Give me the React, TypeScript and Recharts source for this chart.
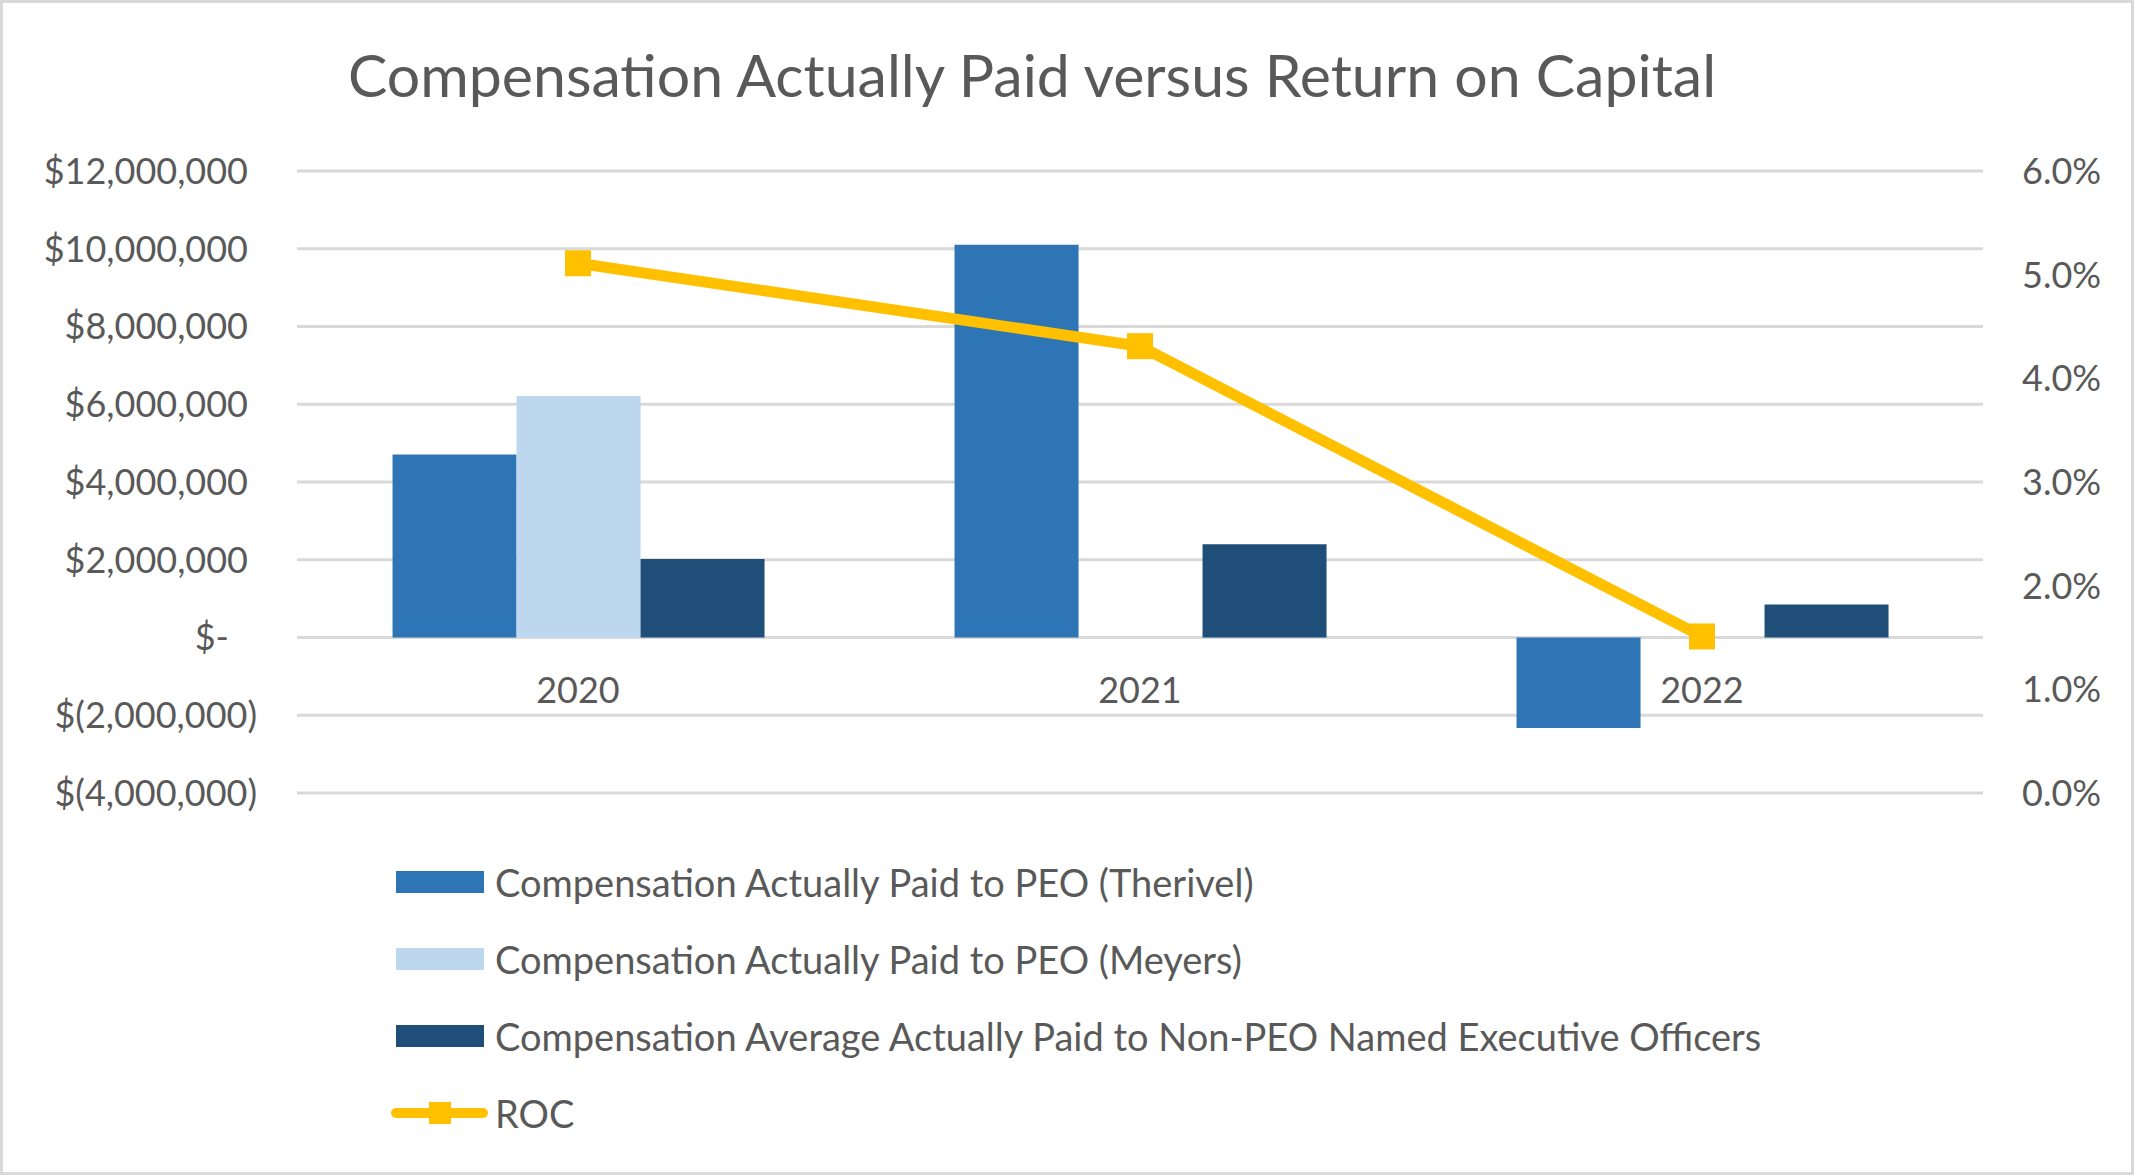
import React from 'react';
import { ComposedChart, Bar, Line, XAxis, YAxis, CartesianGrid, Legend } from 'recharts';

const years = ['2020', '2021', '2022'];
const therivel = [4710000, 10100000, -2330000];
const meyers = [6210000, null, null];
const nonPeo = [2020000, 2400000, 850000];
const roc = [0.0511, 0.0431, 0.0151];

const moneyTicks = [-4000000, -2000000, 0, 2000000, 4000000, 6000000, 8000000, 10000000, 12000000];
const pctTicks = [0, 0.01, 0.02, 0.03, 0.04, 0.05, 0.06];

const seriesNames = [
  'Compensation Actually Paid to PEO (Therivel)',
  'Compensation Actually Paid to PEO (Meyers)',
  'Compensation Average Actually Paid to Non-PEO Named Executive Officers',
  'ROC',
];

const BLUE = '#2E75B6';
const LIGHT_BLUE = '#BDD7EE';
const DARK_BLUE = '#1F4E79';
const GOLD = '#FFC000';
const GRID = '#D9D9D9';
const TEXT = '#595959';
const FONT = 'Lato, "Open Sans", sans-serif';
const TICK_SIZE = 36;

const data = years.map((year, i) => ({
  year,
  therivel: therivel[i],
  meyers: meyers[i],
  nonPeo: nonPeo[i],
  roc: roc[i],
}));

// Excel accounting style: $12,000,000 / $- / $(2,000,000)
const formatMoney = (v: number) => {
  if (v === 0) return '$-';
  if (v < 0) return `$(${Math.abs(v).toLocaleString('en-US')})`;
  return `$${v.toLocaleString('en-US')}`;
};

const formatPct = (v: number) => `${(v * 100).toFixed(1)}%`;

const MoneyTick = ({ x, y, payload }: any) => {
  const v = payload.value;
  // positive numbers carry a trailing ")"-wide pad, zero carries more
  const dx = v > 0 ? -9 : v === 0 ? -28 : 0;
  return (
    <text x={x + dx} y={y} dy="0.36em" textAnchor="end" fill={TEXT} fontSize={TICK_SIZE} fontFamily={FONT}>
      {formatMoney(v)}
    </text>
  );
};

const PctTick = ({ x, y, payload }: any) => (
  <text x={x} y={y} dy="0.36em" textAnchor="start" fill={TEXT} fontSize={TICK_SIZE} fontFamily={FONT}>
    {formatPct(payload.value)}
  </text>
);

// category labels sit just under the zero line, not at the plot bottom
const YearTick = ({ x, y, payload }: any) => (
  <text x={x} y={y - 103} dy="0.36em" textAnchor="middle" fill={TEXT} fontSize={TICK_SIZE} fontFamily={FONT}>
    {payload.value}
  </text>
);

const SquareDot = (props: any) => {
  const { cx, cy, index } = props;
  if (cx == null || cy == null) return null;
  return <rect key={`dot-${index}`} x={cx - 13} y={cy - 13} width={26} height={26} fill={GOLD} />;
};

const renderLegend = (props: any) => {
  // keep series order instead of the default alphabetical sort
  const payload = [...(props.payload || [])].sort(
    (a: any, b: any) => seriesNames.indexOf(a.value) - seriesNames.indexOf(b.value)
  );
  return (
    <div style={{ fontFamily: FONT, fontSize: 38, color: TEXT }}>
      {payload.map((entry: any, i: number) => (
        <div key={i} style={{ height: 77.1, display: 'flex', alignItems: 'center' }}>
          {entry.type === 'line' ? (
            <svg width={98} height={24} style={{ marginRight: 6 }}>
              <line x1={5} y1={12} x2={92} y2={12} stroke={GOLD} strokeWidth={10} strokeLinecap="round" />
              <rect x={38} y={1} width={22} height={22} fill={GOLD} />
            </svg>
          ) : (
            <div style={{ width: 88, height: 22, marginLeft: 5, marginRight: 11, background: entry.color }} />
          )}
          <span style={{ whiteSpace: 'nowrap' }}>{entry.value}</span>
        </div>
      ))}
    </div>
  );
};

const App: React.FC = () => {
  return (
    <div style={{ position: 'absolute', left: 0, top: 0, width: 2134, height: 1175, background: '#fff' }}>
      <ComposedChart
        width={2134}
        height={1175}
        data={data}
        margin={{ top: 171, right: 0, bottom: 352, left: 0 }}
        barCategoryGap="17%"
        barGap={0}
      >
        <CartesianGrid yAxisId="money" vertical={false} stroke={GRID} strokeWidth={3} />
        <XAxis
          dataKey="year"
          axisLine={false}
          tickLine={false}
          tickSize={0}
          tickMargin={0}
          height={30}
          tick={<YearTick />}
        />
        <YAxis
          yAxisId="money"
          width={297}
          domain={[-4000000, 12000000]}
          ticks={moneyTicks}
          interval={0}
          axisLine={false}
          tickLine={false}
          tickSize={0}
          tickMargin={40}
          tick={<MoneyTick />}
        />
        <YAxis
          yAxisId="pct"
          orientation="right"
          width={151}
          domain={[0, 0.06]}
          ticks={pctTicks}
          interval={0}
          axisLine={false}
          tickLine={false}
          tickSize={0}
          tickMargin={39}
          tick={<PctTick />}
        />
        <Legend
          layout="vertical"
          align="center"
          verticalAlign="middle"
          wrapperStyle={{ left: 391, top: 843, width: 1400 }}
          content={renderLegend}
        />
        <Bar yAxisId="money" dataKey="therivel" name={seriesNames[0]} fill={BLUE} isAnimationActive={false} />
        <Bar yAxisId="money" dataKey="meyers" name={seriesNames[1]} fill={LIGHT_BLUE} isAnimationActive={false} />
        <Bar yAxisId="money" dataKey="nonPeo" name={seriesNames[2]} fill={DARK_BLUE} isAnimationActive={false} />
        <Line
          yAxisId="pct"
          type="linear"
          dataKey="roc"
          name={seriesNames[3]}
          stroke={GOLD}
          strokeWidth={11}
          strokeLinejoin="round"
          dot={<SquareDot />}
          activeDot={false}
          legendType="line"
          isAnimationActive={false}
        />
      </ComposedChart>
      <svg width={2134} height={1175} style={{ position: 'absolute', left: 0, top: 0, pointerEvents: 'none' }}>
        <text x={1032} y={97} textAnchor="middle" fill={TEXT} fontSize={59} fontFamily={FONT}>
          Compensation Actually Paid versus Return on Capital
        </text>
        <rect x={1.5} y={1.5} width={2131} height={1172} fill="none" stroke={GRID} strokeWidth={3} />
      </svg>
    </div>
  );
};

export default App;
